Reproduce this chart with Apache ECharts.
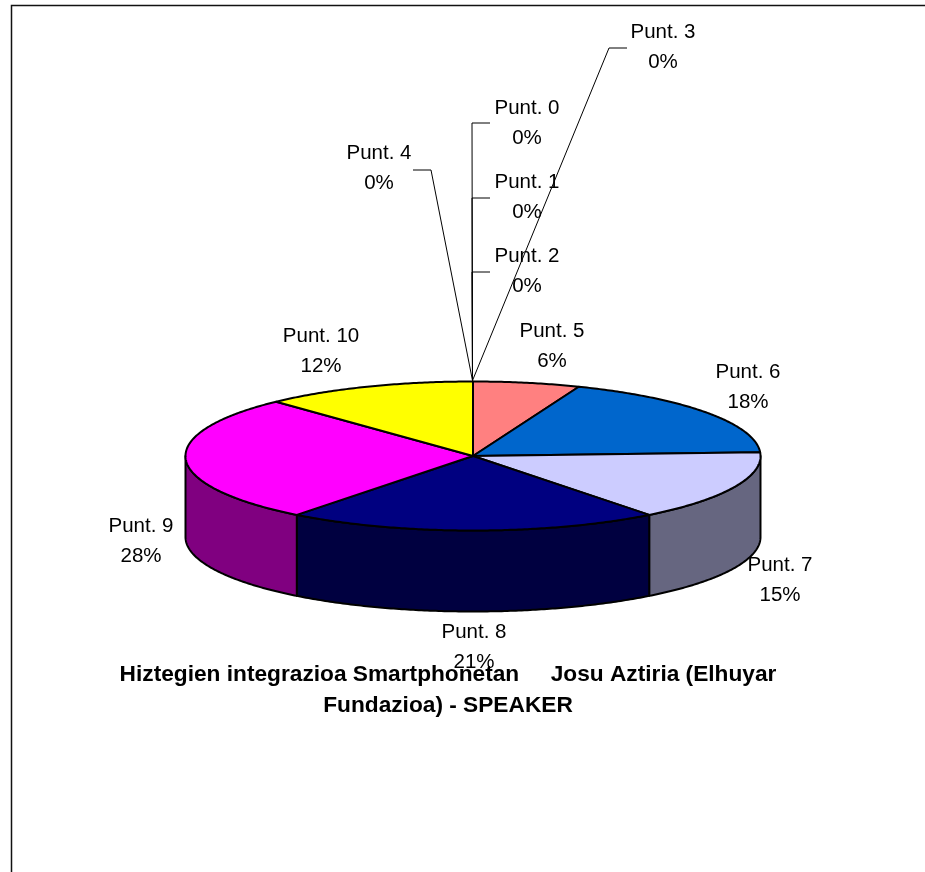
<!DOCTYPE html>
<html><head><meta charset="utf-8">
<style>html,body{margin:0;padding:0;background:#fff}#c{width:925px;height:872px}</style>
<script src="https://cdn.jsdelivr.net/npm/echarts@6/dist/echarts.min.js"></script>
</head><body><div id="c"></div>
<script>
// ---- data ----
const categories = ['Punt. 0','Punt. 1','Punt. 2','Punt. 3','Punt. 4','Punt. 5','Punt. 6','Punt. 7','Punt. 8','Punt. 9','Punt. 10'];
const shares     = [0,0,0,0,0,6.0,18.2,15.3,21.0,27.5,12.0];
const titleText  = 'Hiztegien integrazioa Smartphonetan     Josu Aztiria (Elhuyar\nFundazioa) - SPEAKER';

// ---- styling and layout (not data) ----
const topColors  = ['#fff','#fff','#fff','#fff','#fff','#FF8080','#0066CC','#CCCCFF','#000080','#FF00FF','#FFFF00'];
const sideColors = ['#888','#888','#888','#888','#888','#804040','#003366','#666680','#000040','#800080','#808000'];
const labelCentres = [[527,123],[527,197],[527,271],[663,47],[379,168],[552,346],[748,387],[780,580],[474,647],[141,541],[321,351]];
const leaderBends  = [[472,123,490],[472,198,490],[472,272,490],[609,48,627],[431,170,413],null,null,null,null,null,null];
const PIE = {cx:473, cy:456, rx:287.5, ry:74.5, depth:81};

const total = shares.reduce((a,b)=>a+b,0);
const startAngle = i => shares.slice(0,i).reduce((a,b)=>a+b,0)/total*Math.PI*2;
const rimPoint = (t,dy) => [PIE.cx+PIE.rx*Math.sin(t), PIE.cy-PIE.ry*Math.cos(t)+(dy||0)];
function arc(a,b,dy){
  const n=Math.max(2,Math.ceil((b-a)/0.01)), pts=[];
  for(let k=0;k<=n;k++) pts.push(rimPoint(a+(b-a)*k/n,dy));
  return pts;
}
const seriesData = categories.map((name,i)=>({name,value:shares[i]}));
const edge = {stroke:'#000',lineWidth:2,lineJoin:'round'};

const chart = echarts.init(document.getElementById('c'),null,{renderer:'canvas'});
chart.setOption({
  animation:false,
  backgroundColor:'#fff',
  title:{text:titleText,left:443,top:654,textAlign:'center',
    textStyle:{fontFamily:'"Liberation Sans",Arial,sans-serif',fontSize:22.7,fontWeight:'bold',color:'#000',lineHeight:31}},
  graphic:[{type:'polyline',silent:true,shape:{points:[[11.5,872],[11.5,5.5],[925,5.5]]},style:{stroke:'#111',lineWidth:1.5,fill:null}}],
  series:[
    { // side walls: only the part of each slice that faces the viewer
      type:'custom',coordinateSystem:'none',z:2,silent:true,data:seriesData,
      renderItem(p,api){
        const i=p.dataIndex;
        const a=Math.max(startAngle(i),Math.PI/2), b=Math.min(startAngle(i+1),Math.PI*1.5);
        if(b<=a) return {type:'group',children:[]};
        const pts=arc(a,b,0).concat(arc(a,b,PIE.depth).reverse());
        return {type:'polygon',shape:{points:pts},style:Object.assign({fill:sideColors[i]},edge)};
      }
    },
    { // top face
      type:'custom',coordinateSystem:'none',z:3,silent:true,data:seriesData,
      renderItem(p,api){
        const i=p.dataIndex, a=startAngle(i), b=startAngle(i+1);
        if(b<=a) return {type:'group',children:[]};
        const pts=[[PIE.cx,PIE.cy]].concat(arc(a,b,0));
        return {type:'polygon',shape:{points:pts},style:Object.assign({fill:topColors[i]},edge)};
      }
    },
    { // labels and leader lines from the shared zero-slice origin
      type:'custom',coordinateSystem:'none',z:4,silent:true,data:seriesData,
      renderItem(p,api){
        const i=p.dataIndex, children=[];
        const bend=leaderBends[i];
        if(bend){
          const o=rimPoint(startAngle(i));
          children.push({type:'polyline',shape:{points:[[o[0]-0.5,o[1]-1],[bend[0],bend[1]],[bend[2],bend[1]]]},
            style:{stroke:'#000',lineWidth:1,fill:null}});
        }
        const c=labelCentres[i];
        children.push({type:'text',x:c[0],y:c[1],style:{
          text:categories[i]+'\n'+Math.round(shares[i]/total*100)+'%',
          font:'20.5px "Liberation Sans",Arial,sans-serif',fill:'#000',align:'center',verticalAlign:'middle',lineHeight:30}});
        return {type:'group',children};
      }
    }
  ]
});
</script></body></html>
